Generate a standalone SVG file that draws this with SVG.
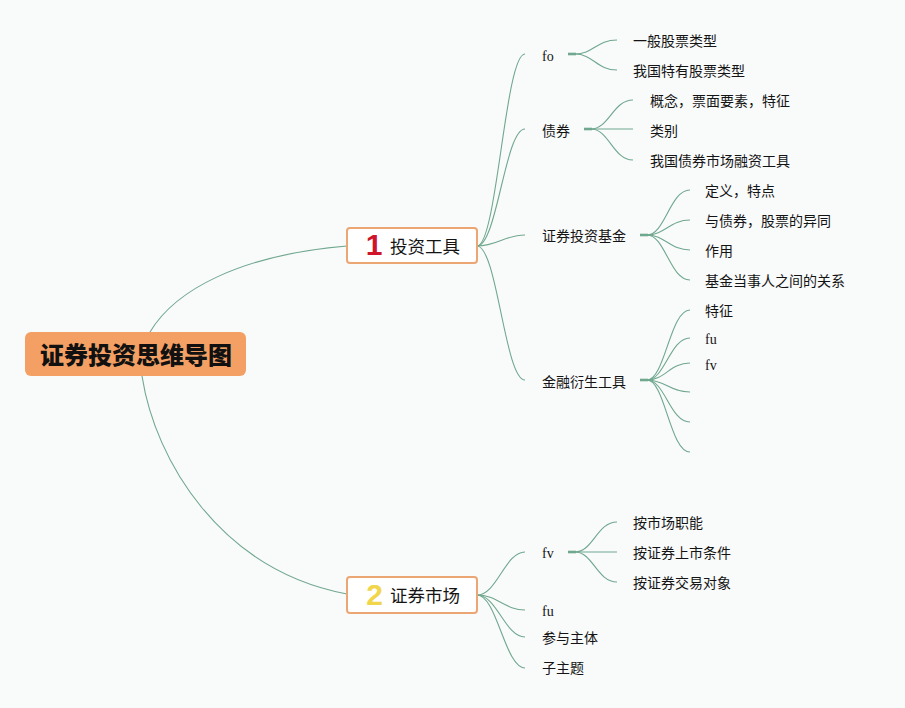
<svg xmlns="http://www.w3.org/2000/svg" width="905" height="708" viewBox="0 0 905 708">
<style>
.bg{fill:#F9FAFA}
.c{fill:none;stroke:#6FA78F;stroke-width:1.1}
.st{stroke:#6FA78F;stroke-width:2.6;stroke-linecap:butt}
.t{font-family:"Noto Sans CJK SC","Noto Sans",sans-serif;font-size:14px;fill:#141414}
.l{font-family:"Liberation Serif",serif;font-size:14px;fill:#141414}
.bt{font-family:"Noto Sans CJK SC","Noto Sans",sans-serif;font-size:17.5px;fill:#141414}
.box{fill:#FFFFFF;stroke:#EBA673;stroke-width:2}
.root{fill:#F4A064}
.rt{font-family:"Noto Sans CJK SC","Noto Sans",sans-serif;font-size:24px;font-weight:900;fill:#111111}
.num{font-family:"Liberation Sans",Arial,sans-serif;font-size:30px;font-weight:bold}
</style>
<rect class="bg" x="0" y="0" width="905" height="708"/>
<g id="connectors">
<path class="c" d="M150,332 C175,290 240,255 347,246"/>
<path class="c" d="M142,376 C155,460 220,570 347,594"/>
<path class="c" d="M477,246 C497,246 505,54 525,54"/>
<path class="c" d="M477,246 C497,246 505,129 525,129"/>
<path class="c" d="M477,246 C497,246 505,235 525,235"/>
<path class="c" d="M477,246 C497,246 505,380 525,380"/>
<path class="c" d="M477,595 C497,595 505,552 525,552"/>
<path class="c" d="M477,595 C497,595 505,610 525,610"/>
<path class="c" d="M477,595 C497,595 505,637 525,637"/>
<path class="c" d="M477,595 C497,595 505,668 525,668"/>
<line class="st" x1="568" y1="54" x2="576" y2="54"/>
<path class="c" d="M575,54 C593,54 597,40 617,40"/>
<path class="c" d="M575,54 C593,54 597,70 617,70"/>
<line class="st" x1="584" y1="129" x2="592" y2="129"/>
<path class="c" d="M591,129 C609,129 613,100 633,100"/>
<path class="c" d="M591,129 C609,129 613,129 633,129"/>
<path class="c" d="M591,129 C609,129 613,160 633,160"/>
<line class="st" x1="640" y1="235" x2="648" y2="235"/>
<path class="c" d="M647,235 C665,235 670,190 690,190"/>
<path class="c" d="M647,235 C665,235 670,220 690,220"/>
<path class="c" d="M647,235 C665,235 670,250 690,250"/>
<path class="c" d="M647,235 C665,235 670,280 690,280"/>
<line class="st" x1="640" y1="380" x2="648" y2="380"/>
<path class="c" d="M647,380 C665,380 670,310 690,310"/>
<path class="c" d="M647,380 C665,380 670,338 690,338"/>
<path class="c" d="M647,380 C665,380 670,363 690,363"/>
<path class="c" d="M647,380 C665,380 670,392 690,392"/>
<path class="c" d="M647,380 C665,380 670,422 690,422"/>
<path class="c" d="M647,380 C665,380 670,452 690,452"/>
<line class="st" x1="568" y1="552" x2="576" y2="552"/>
<path class="c" d="M575,552 C593,552 597,522 617,522"/>
<path class="c" d="M575,552 C593,552 597,552 617,552"/>
<path class="c" d="M575,552 C593,552 597,582 617,582"/>
</g>
<g id="root">
<rect class="root" x="25" y="332" width="221" height="44" rx="6"/>
<text class="rt" x="136" y="364" text-anchor="middle">证券投资思维导图</text>
</g>
<g id="branch1">
<rect class="box" x="347" y="228" width="130" height="35" rx="3"/>
<text class="num" x="374" y="255" text-anchor="middle" fill="#D0152B">1</text>
<text class="bt" x="390" y="253">投资工具</text>
</g>
<g id="branch2">
<rect class="box" x="347" y="577" width="130" height="36" rx="3"/>
<text class="num" x="374.5" y="605" text-anchor="middle" fill="#F1D64B">2</text>
<text class="bt" x="390" y="602">证券市场</text>
</g>
<g id="n-fo"><text class="l" x="542" y="61">fo</text></g>
<g id="n-fo-1"><text class="t" x="633" y="46">一般股票类型</text></g>
<g id="n-fo-2"><text class="t" x="633" y="76">我国特有股票类型</text></g>
<g id="n-bond"><text class="t" x="542" y="136">债券</text></g>
<g id="n-bond-1"><text class="t" x="650" y="106">概念，票面要素，特征</text></g>
<g id="n-bond-2"><text class="t" x="650" y="136">类别</text></g>
<g id="n-bond-3"><text class="t" x="650" y="166">我国债券市场融资工具</text></g>
<g id="n-fund"><text class="t" x="542" y="241">证券投资基金</text></g>
<g id="n-fund-1"><text class="t" x="705" y="196">定义，特点</text></g>
<g id="n-fund-2"><text class="t" x="705" y="226">与债券，股票的异同</text></g>
<g id="n-fund-3"><text class="t" x="705" y="256">作用</text></g>
<g id="n-fund-4"><text class="t" x="705" y="286">基金当事人之间的关系</text></g>
<g id="n-deriv"><text class="t" x="542" y="387">金融衍生工具</text></g>
<g id="n-deriv-1"><text class="t" x="705" y="316">特征</text></g>
<g id="n-deriv-2"><text class="l" x="705" y="344">fu</text></g>
<g id="n-deriv-3"><text class="l" x="705" y="370">fv</text></g>
<g id="n-m-fv"><text class="l" x="542" y="558">fv</text></g>
<g id="n-m-fv-1"><text class="t" x="633" y="528">按市场职能</text></g>
<g id="n-m-fv-2"><text class="t" x="633" y="558">按证券上市条件</text></g>
<g id="n-m-fv-3"><text class="t" x="633" y="588">按证券交易对象</text></g>
<g id="n-m-fu"><text class="l" x="542" y="616">fu</text></g>
<g id="n-m-part"><text class="t" x="542" y="643">参与主体</text></g>
<g id="n-m-sub"><text class="t" x="542" y="673">子主题</text></g>
</svg>
